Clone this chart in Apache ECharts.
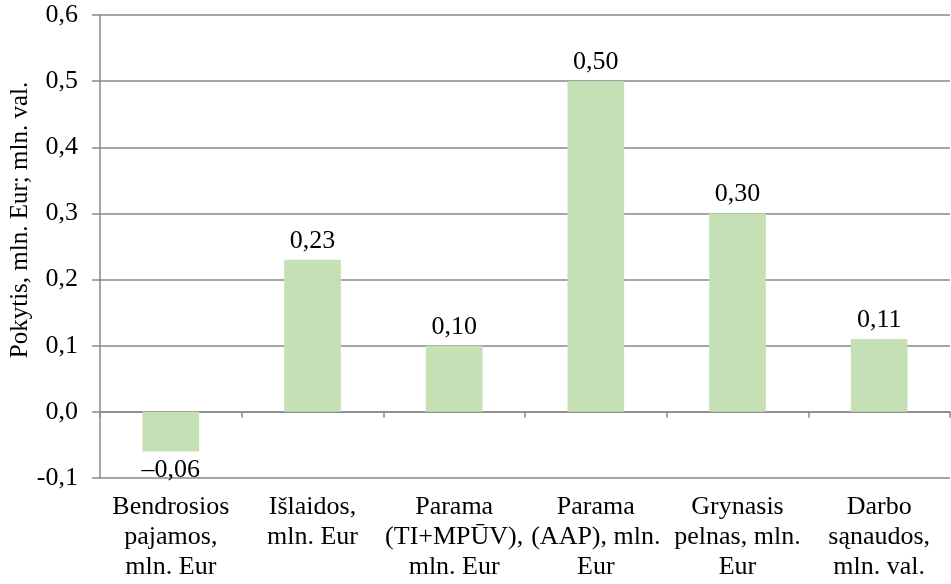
<!DOCTYPE html>
<html><head><meta charset="utf-8">
<script src="https://cdn.jsdelivr.net/npm/echarts@6/dist/echarts.min.js"></script>
<style>html,body{margin:0;padding:0;background:#fff}#c{width:951px;height:584px}</style>
</head><body><div id="c"></div>
<script>
const categories = ["Bendrosios\npajamos,\nmln. Eur","Išlaidos,\nmln. Eur","Parama\n(TI+MPŪV),\nmln. Eur","Parama\n(AAP), mln.\nEur","Grynasis\npelnas, mln.\nEur","Darbo\nsąnaudos,\nmln. val."];
const values = [-0.06, 0.23, 0.10, 0.50, 0.30, 0.11];
const yAxisTitle = "Pokytis, mln. Eur; mln. val.";
const FONT = "Liberation Serif";
const chart = echarts.init(document.getElementById('c'));
chart.setOption({
  animation:false,
  grid:{left:100,right:1,top:15,bottom:106},
  graphic:[{type:'text',rotation:Math.PI/2,x:20,y:220,
    style:{text:yAxisTitle,font:'25px "Liberation Serif"',fill:'#000',align:'center',verticalAlign:'middle'}}],
  xAxis:[{type:'category',data:categories,axisLine:{onZero:true,lineStyle:{color:'#898989',width:1.5}},
     axisTick:{show:true,length:6,lineStyle:{color:'#898989',width:1.5}},axisLabel:{show:false}},
   {type:'category',data:categories,position:'bottom',offset:0,axisLine:{show:false},axisTick:{show:false},
     axisLabel:{interval:0,color:'#000',fontFamily:FONT,fontSize:26,lineHeight:30,margin:14}}],
  yAxis:{type:'value',min:-0.1,max:0.6,interval:0.1,
    axisLine:{show:true,lineStyle:{color:'#898989',width:1.5}},
    axisTick:{show:true,length:8,lineStyle:{color:'#898989',width:1.5}},
    splitLine:{lineStyle:{color:'#898989',width:1.5}},
    axisLabel:{color:'#000',fontFamily:FONT,fontSize:26,margin:22,formatter:v=>v.toFixed(1).replace('.',',')}},
  series:[{type:'bar',data:values.map(v=>v<0?{value:v,label:{position:'bottom'}}:v),barWidth:'40%',itemStyle:{color:'#C5E0B4'},
    label:{show:true,position:'top',color:'#000',fontFamily:FONT,fontSize:26,distance:6,
      formatter:p=>(p.value<0?'\u2013':'')+Math.abs(p.value).toFixed(2).replace('.',',')}}]
});
</script></body></html>
